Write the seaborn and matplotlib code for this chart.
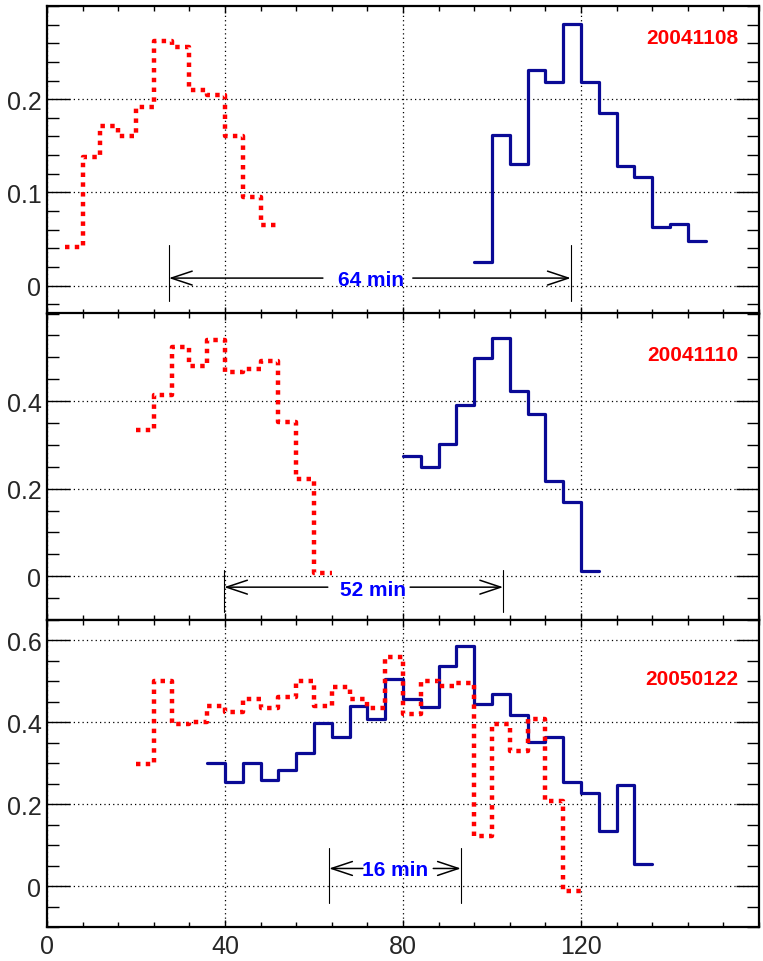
import numpy as np
import pandas as pd
import matplotlib
matplotlib.use("Agg")
import matplotlib.pyplot as plt
import seaborn as sns
from matplotlib.ticker import MultipleLocator

# ---------------- data ----------------
BIN_WIDTH = 4
panel_labels = ["20041108", "20041110", "20050122"]

red_start = [4, 20, 20]
blue_start = [96, 80, 36]

red_1 = [0.041, 0.138, 0.171, 0.161, 0.192, 0.262, 0.256, 0.210, 0.205, 0.160, 0.095, 0.065]
blue_1 = [0.025, 0.162, 0.130, 0.231, 0.218, 0.281, 0.218, 0.185, 0.128, 0.116, 0.063, 0.066, 0.048]

red_2 = [0.333, 0.414, 0.523, 0.480, 0.540, 0.467, 0.473, 0.492, 0.352, 0.222, 0.008]
blue_2 = [0.275, 0.250, 0.302, 0.390, 0.498, 0.543, 0.424, 0.370, 0.217, 0.169, 0.013]

red_3 = [0.297, 0.501, 0.397, 0.401, 0.440, 0.426, 0.456, 0.436, 0.462, 0.502, 0.440, 0.487,
         0.456, 0.434, 0.560, 0.420, 0.502, 0.488, 0.496, 0.122, 0.397, 0.331, 0.407, 0.209, -0.012]
blue_3 = [0.301, 0.255, 0.301, 0.258, 0.283, 0.326, 0.399, 0.365, 0.441, 0.409, 0.505, 0.456,
          0.437, 0.537, 0.586, 0.445, 0.468, 0.417, 0.352, 0.365, 0.255, 0.228, 0.134, 0.247, 0.053]

red_series = [red_1, red_2, red_3]
blue_series = [blue_1, blue_2, blue_3]

# delay annotations
delay_text = ["64 min", "52 min", "16 min"]
marker_left = [27.4, 39.8, 63.4]
marker_right = [117.7, 102.5, 93.0]
marker_ylo = [-0.017, -0.081, -0.041]
marker_yhi = [0.043, 0.015, 0.094]
arrow_y = [0.008, -0.025, 0.043]
arrow_tail_left = [62.0, 63.1, 71.0]
arrow_tail_right = [82.2, 81.6, 86.8]
text_x = [72.9, 73.3, 78.3]
text_y = [0.006, -0.030, 0.041]

ylims = [(-0.03, 0.30), (-0.10, 0.60), (-0.10, 0.65)]
y_ticks = [[0, 0.1, 0.2], [0, 0.2, 0.4], [0, 0.2, 0.4, 0.6]]
y_ticklabels = [["0", "0.1", "0.2"], ["0", "0.2", "0.4"], ["0", "0.2", "0.4", "0.6"]]
y_minor = [0.02, 0.05, 0.05]
label_pos = [(0.9705, 0.899), (0.9705, 0.865), (0.9705, 0.811)]
x_ticks = [0, 40, 80, 120]
x_ticklabels = ["0", "40", "80", "120"]

# ---------------- style ----------------
sns.set_style("ticks")
plt.rcParams["font.family"] = ["Liberation Sans Narrow", "Liberation Sans", "DejaVu Sans"]

RED = "#ff0000"
BLUE = "#0a0a96"

W, H = 763, 962
fig = plt.figure(figsize=(W / 100, H / 100), dpi=100)

left = 47 / W
width = 712 / W
tops = [7, 314.5, 621]
bots = [314.5, 621, 928]


def step_df(start, vals):
    n = len(vals)
    edges = start + BIN_WIDTH * np.arange(n + 1)
    return pd.DataFrame({"t": edges, "v": list(vals) + [vals[-1]]})


for i in range(3):
    ax = fig.add_axes([left, 1 - bots[i] / H, width, (bots[i] - tops[i]) / H])

    sns.lineplot(data=step_df(blue_start[i], blue_series[i]), x="t", y="v",
                 estimator=None, drawstyle="steps-post", color=BLUE, linewidth=2.3,
                 ax=ax, zorder=3)
    sns.lineplot(data=step_df(red_start[i], red_series[i]), x="t", y="v",
                 estimator=None, drawstyle="steps-post", color=RED, linewidth=3.2,
                 dashes=False, linestyle=(0, (1.0, 1.2)), ax=ax, zorder=4)

    ax.set_xlim(0, 160)
    ax.set_ylim(*ylims[i])
    ax.set_xlabel("")
    ax.set_ylabel("")

    ax.set_yticks(y_ticks[i])
    ax.set_yticklabels(y_ticklabels[i])
    ax.set_xticks(x_ticks)
    if i == 2:
        ax.set_xticklabels(x_ticklabels)
    else:
        ax.tick_params(axis="x", labelbottom=False)
    ax.xaxis.set_minor_locator(MultipleLocator(8))
    ax.yaxis.set_minor_locator(MultipleLocator(y_minor[i]))

    ax.grid(True, which="major", color="black", linestyle=(0, (1, 2.5)), linewidth=0.9)
    ax.set_axisbelow(True)

    ax.tick_params(axis="both", which="both", direction="in", top=True, right=True,
                   width=1.0, color="black")
    ax.tick_params(axis="y", which="major", length=16.5, labelsize=18, pad=4)
    ax.tick_params(axis="y", which="minor", length=8.5)
    ax.tick_params(axis="x", which="major", length=5, labelsize=18, pad=5)
    ax.tick_params(axis="x", which="minor", length=3.5)

    for s in ax.spines.values():
        s.set_linewidth(1.6)
        s.set_color("black")

    # labels
    ax.text(label_pos[i][0], label_pos[i][1], panel_labels[i], transform=ax.transAxes,
            ha="right", va="center", color=RED, fontsize=15, fontweight="bold")

    # delay markers
    for xm in (marker_left[i], marker_right[i]):
        ax.plot([xm, xm], [marker_ylo[i], marker_yhi[i]], color="black", linewidth=0.8, zorder=5)
    akw = dict(arrowstyle="->,head_length=0.75,head_width=0.25", color="black",
               linewidth=1.1, shrinkA=0, shrinkB=0, mutation_scale=20)
    ax.annotate("", xy=(marker_left[i], arrow_y[i]), xytext=(arrow_tail_left[i], arrow_y[i]),
                arrowprops=akw, zorder=5)
    ax.annotate("", xy=(marker_right[i], arrow_y[i]), xytext=(arrow_tail_right[i], arrow_y[i]),
                arrowprops=akw, zorder=5)
    ax.text(text_x[i], text_y[i], delay_text[i], ha="center", va="center", color="#0000ff",
            fontsize=15, fontweight="bold", zorder=6)

fig.savefig("out.png", dpi=100)
